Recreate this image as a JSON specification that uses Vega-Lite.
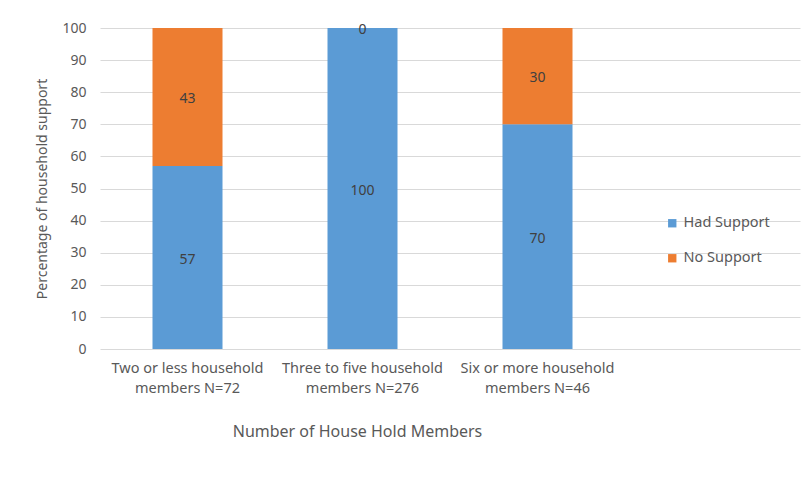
{
  "$schema": "https://vega.github.io/schema/vega-lite/v6.json",
  "autosize": "none",
  "width": 700,
  "height": 321,
  "padding": {"left": 100, "top": 28, "right": 7, "bottom": 141},
  "background": "white",
  "config": {
    "font": "Noto Sans",
    "view": {"stroke": null},
    "axis": {"labelColor": "#595959", "titleColor": "#595959", "labelFontSize": 14, "titleFontSize": 14, "titleFontWeight": "normal", "gridColor": "#d9d9d9", "domain": false, "ticks": false}
  },
  "data": {
    "values": [
      {"group": "Two or less household|members N=72", "support": "Had Support", "pct": 57},
      {"group": "Two or less household|members N=72", "support": "No Support", "pct": 43},
      {"group": "Three to five household|members N=276", "support": "Had Support", "pct": 100},
      {"group": "Three to five household|members N=276", "support": "No Support", "pct": 0},
      {"group": "Six or more household|members N=46", "support": "Had Support", "pct": 70},
      {"group": "Six or more household|members N=46", "support": "No Support", "pct": 30}
    ]
  },
  "encoding": {
    "x": {
      "field": "group", "type": "nominal",
      "scale": {"domain": ["Two or less household|members N=72", "Three to five household|members N=276", "Six or more household|members N=46", " "], "paddingInner": 0.6, "paddingOuter": 0.3},
      "axis": {"labelAngle": 0, "labelExpr": "split(datum.label, '|')", "labelBaseline": "top", "labelPadding": 12, "labelLineHeight": 20, "labelFontSize": 14.5, "title": "Number  of House Hold Members", "titleFontSize": 16, "titleX": 257, "titleY": 82, "titleBaseline": "middle", "grid": false, "labelLimit": 220}
    }
  },
  "layer": [
    {
      "mark": {"type": "bar"},
      "encoding": {
        "y": {"field": "pct", "type": "quantitative", "stack": "zero",
          "scale": {"domain": [0, 100], "nice": false},
          "axis": {"values": [0,10,20,30,40,50,60,70,80,90,100], "title": "Percentage of household support", "titlePadding": 12, "labelPadding": 14}},
        "order": {"field": "support", "type": "nominal", "sort": "ascending"},
        "color": {"field": "support", "type": "nominal",
          "scale": {"domain": ["Had Support", "No Support"], "range": ["#5b9bd5", "#ed7d31"]},
          "legend": {"orient": "none", "legendX": 565, "legendY": 188, "title": null, "symbolType": "square", "symbolSize": 70, "symbolStrokeWidth": 0, "labelFontSize": 14.5, "labelColor": "#595959", "rowPadding": 20, "labelOffset": 4}}
      }
    },
    {
      "transform": [
        {"stack": "pct", "groupby": ["group"], "sort": [{"field": "support", "order": "ascending"}], "as": ["y0", "y1"]},
        {"calculate": "(datum.y0 + datum.y1) / 2", "as": "mid"}
      ],
      "mark": {"type": "text", "fontSize": 14, "color": "#404040", "baseline": "middle", "dy": 2},
      "encoding": {
        "y": {"field": "mid", "type": "quantitative",
          "scale": {"domain": [0, 100], "nice": false},
          "axis": {"values": [0,10,20,30,40,50,60,70,80,90,100], "title": "Percentage of household support", "titlePadding": 12, "labelPadding": 14}},
        "text": {"field": "pct", "type": "quantitative"}
      }
    }
  ]
}
